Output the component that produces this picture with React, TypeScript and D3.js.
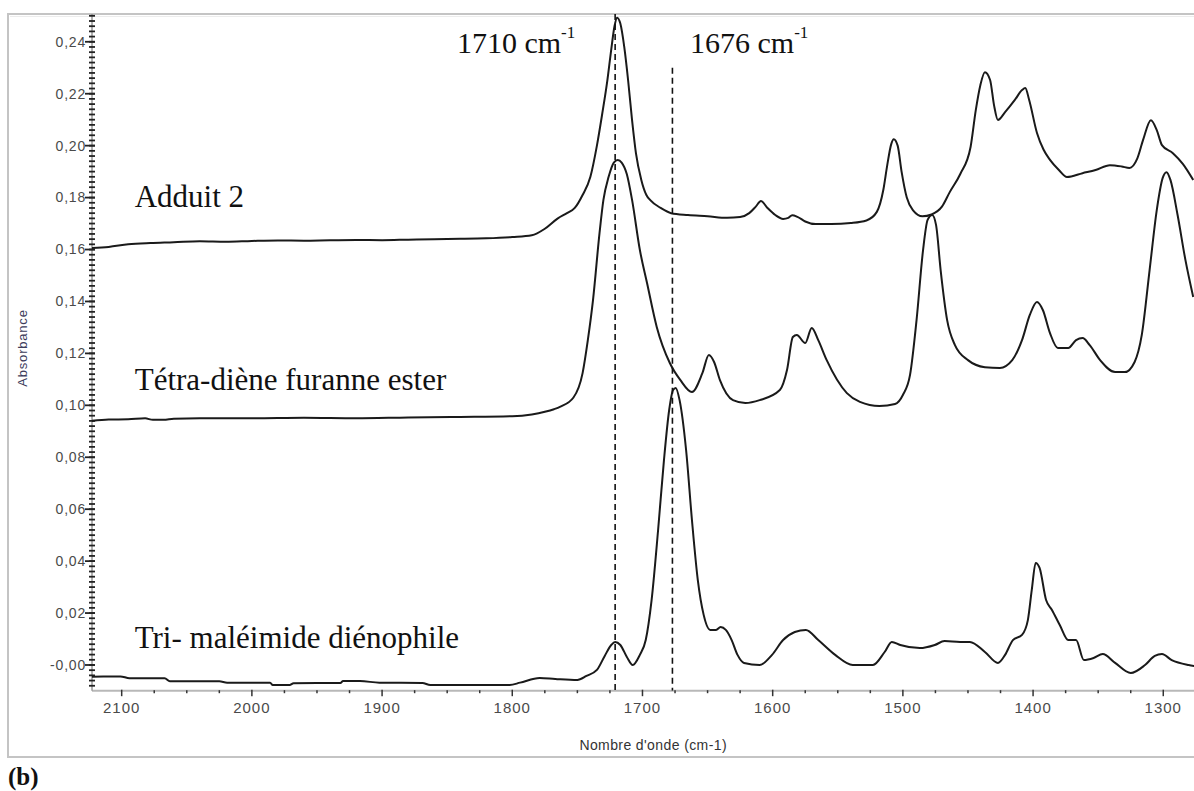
import React from "react";
import * as d3 from "d3";

// ---------- data ----------
const adduitWn = [2123, 2110, 2095, 2078, 2060, 2040, 2020, 2000, 1980, 1960, 1940, 1920, 1900, 1880, 1860, 1840, 1820, 1800, 1785, 1775, 1765, 1758, 1752, 1746, 1740, 1735, 1731, 1727, 1724, 1721.5, 1719.5, 1717, 1714, 1711, 1708, 1705, 1701, 1697, 1694, 1686, 1678, 1665, 1650, 1635, 1625, 1618, 1613, 1609, 1604, 1598, 1592, 1588, 1585, 1581, 1575, 1567, 1555, 1540, 1528, 1520, 1515, 1512, 1509, 1507, 1504, 1501, 1497, 1492, 1485, 1478, 1470, 1464, 1456, 1448, 1444, 1440.5, 1437, 1433, 1430, 1427, 1421.5, 1414, 1408.5, 1406, 1403, 1397, 1392, 1387, 1380, 1374, 1362, 1352, 1341, 1332, 1326, 1320, 1315.5, 1309.5, 1305, 1301, 1292.6, 1285, 1277];
const adduitAbs = [0.1606, 0.161, 0.162, 0.1625, 0.1628, 0.1632, 0.163, 0.1633, 0.1635, 0.1634, 0.1636, 0.1637, 0.1636, 0.1638, 0.164, 0.1641, 0.1643, 0.1648, 0.1655, 0.168, 0.172, 0.174, 0.176, 0.181, 0.188, 0.2, 0.212, 0.225, 0.237, 0.246, 0.2493, 0.247, 0.238, 0.225, 0.2098, 0.197, 0.187, 0.181, 0.179, 0.176, 0.174, 0.1733, 0.1728, 0.1722, 0.1725, 0.174, 0.1765, 0.1787, 0.176, 0.1733, 0.1718, 0.1722, 0.1732, 0.1726, 0.1708, 0.1698, 0.1698, 0.1702, 0.1712, 0.1745, 0.183, 0.1925, 0.2005, 0.2025, 0.2, 0.19, 0.18, 0.175, 0.1728, 0.1735, 0.1765, 0.1821, 0.189, 0.1995, 0.2137, 0.2233, 0.2283, 0.2253, 0.2156, 0.2099, 0.2129, 0.2176, 0.2214, 0.2222, 0.2176, 0.2049, 0.1985, 0.1945, 0.1905, 0.1879, 0.1894, 0.1906, 0.1925, 0.192, 0.1914, 0.195, 0.2022, 0.2098, 0.206, 0.2002, 0.1971, 0.193, 0.1868];

const tetraWn = [2123, 2110, 2095, 2082, 2076, 2068, 2060, 2040, 2000, 1960, 1920, 1880, 1840, 1800, 1785, 1775, 1768, 1763, 1753, 1746, 1742, 1738, 1733, 1730, 1726, 1722, 1719, 1716, 1712, 1708, 1702, 1696.5, 1689, 1679, 1671, 1662, 1654, 1649, 1645, 1640.5, 1630.5, 1621, 1610, 1594.5, 1589, 1584.5, 1581.5, 1575, 1570, 1565, 1558.5, 1543, 1533, 1518, 1506, 1500, 1494.5, 1489.5, 1484.5, 1481, 1477.5, 1474.5, 1471, 1466, 1460, 1450, 1437, 1425.5, 1416, 1408.5, 1402.5, 1397, 1392.5, 1387, 1381, 1373, 1367, 1362, 1356.5, 1348.5, 1337, 1329.5, 1322, 1316.5, 1310.5, 1305, 1300.5, 1297.5, 1294.5, 1289, 1283, 1277];
const tetraAbs = [0.094, 0.0945, 0.0946, 0.095, 0.0944, 0.0944, 0.0948, 0.095, 0.095, 0.0952, 0.095, 0.0953, 0.0955, 0.0958, 0.0965, 0.0975, 0.0985, 0.0995, 0.103, 0.1124, 0.125, 0.1405, 0.1663, 0.1791, 0.188, 0.1935, 0.1945, 0.1935, 0.189, 0.1791, 0.1598, 0.1471, 0.1301, 0.1163, 0.1098, 0.1051, 0.1124, 0.1194, 0.1167, 0.1097, 0.102, 0.1009, 0.102, 0.1059, 0.1136, 0.1263, 0.1271, 0.124, 0.1298, 0.1251, 0.1174, 0.1047, 0.1013, 0.0997, 0.1005, 0.104, 0.1117, 0.1328, 0.1598, 0.1714, 0.1733, 0.1694, 0.1521, 0.1328, 0.1232, 0.1174, 0.1147, 0.1144, 0.1174, 0.1251, 0.1348, 0.1398, 0.1367, 0.1278, 0.1221, 0.1221, 0.1251, 0.1259, 0.1232, 0.1174, 0.1128, 0.1128, 0.1167, 0.1271, 0.1521, 0.1752, 0.1875, 0.1898, 0.1868, 0.1733, 0.156, 0.1417];

const triWn = [2123, 2101, 2094, 2067, 2063, 2025, 2019, 1986, 1984, 1971, 1968, 1932, 1930, 1917, 1902, 1869, 1863, 1802, 1794, 1779, 1767, 1750, 1743, 1735, 1729, 1724, 1721, 1717, 1712, 1707.5, 1702, 1697.5, 1693, 1688, 1683.5, 1679.5, 1676.5, 1674.5, 1671.5, 1666.5, 1662, 1657.5, 1653, 1648, 1643.5, 1640, 1636, 1631.5, 1627, 1622, 1610, 1600.5, 1592, 1583, 1574.5, 1565, 1552, 1538.5, 1523, 1514, 1508.5, 1502, 1487, 1475.5, 1468, 1456, 1448.5, 1437, 1427, 1421.5, 1415.5, 1408.5, 1404, 1401, 1398, 1395, 1390, 1385.5, 1379.5, 1373, 1367, 1361, 1353.5, 1346.5, 1337, 1325, 1314, 1306.5, 1301, 1293.5, 1280.5, 1276];
const triAbs = [-0.0045, -0.0044, -0.0051, -0.0051, -0.0063, -0.0063, -0.0068, -0.0068, -0.0077, -0.0077, -0.007, -0.0069, -0.0062, -0.0062, -0.0068, -0.0069, -0.0077, -0.0077, -0.0068, -0.005, -0.0054, -0.0058, -0.0042, -0.0019, 0.0035, 0.0077, 0.0089, 0.0077, 0.0031, 0.0, 0.0039, 0.0096, 0.025, 0.052, 0.0789, 0.0982, 0.1059, 0.1067, 0.102, 0.0828, 0.0558, 0.0327, 0.0193, 0.0135, 0.0135, 0.0146, 0.0135, 0.0096, 0.0039, 0.0008, 0.0, 0.0039, 0.0096, 0.0127, 0.0135, 0.0096, 0.0039, 0.0, 0.0, 0.005, 0.0089, 0.0077, 0.0065, 0.0077, 0.0092, 0.0089, 0.0089, 0.005, 0.0008, 0.0039, 0.0096, 0.0116, 0.0173, 0.0289, 0.0393, 0.0374, 0.025, 0.0212, 0.0154, 0.0096, 0.0096, 0.0019, 0.0027, 0.0042, 0.0008, -0.0031, 0.0, 0.0035, 0.0042, 0.0019, 0.0, -0.0004];

const seriesLabels = ["Adduit 2", "Tétra-diène furanne ester", "Tri- maléimide diénophile"];
const labelAnchorsWn = [2090, 2090, 2090];
const labelAnchorsAbs = [0.1762, 0.1059, 0.0066];

const xTicks = [2100, 2000, 1900, 1800, 1700, 1600, 1500, 1400, 1300];
const yTicks = [0, 0.02, 0.04, 0.06, 0.08, 0.1, 0.12, 0.14, 0.16, 0.18, 0.2, 0.22, 0.24];
const yTickLabels = ["-0,00", "0,02", "0,04", "0,06", "0,08", "0,10", "0,12", "0,14", "0,16", "0,18", "0,20", "0,22", "0,24"];

const markerWn = [1721, 1677];
const markerTopAbs = [0.2507, 0.23];
const markerLabels = ["1710 cm", "1676 cm"];
const markerLabelWn = [1842.5, 1663.5];

const xDomain = [2122.8, 1276.4];
const yDomain = [-0.0099, 0.2507];

const W = 1194;
const H = 791;
const plot = { left: 92, right: 1194, top: 14, bottom: 690.7 };

export default function App() {
  const x = d3.scaleLinear().domain(xDomain).range([plot.left, plot.right]);
  const y = d3.scaleLinear().domain(yDomain).range([plot.bottom, plot.top]);

  const line = d3
    .line<[number, number]>()
    .x((d) => x(d[0]))
    .y((d) => y(d[1]))
    .curve(d3.curveMonotoneX);

  const series = [
    d3.zip(adduitWn, adduitAbs) as [number, number][],
    d3.zip(tetraWn, tetraAbs) as [number, number][],
    d3.zip(triWn, triAbs) as [number, number][],
  ];

  const yMinor = d3.range(-0.008, 0.2505, 0.002);
  const xMinor = d3.range(2125, 1275, -25).filter((v) => v % 100 !== 0 && v <= xDomain[0] && v >= xDomain[1]);

  const sans = "'Liberation Sans', Arial, sans-serif";
  const serif = "'Liberation Serif', 'Times New Roman', serif";

  return (
    <svg
      width={W}
      height={H}
      viewBox={`0 0 ${W} ${H}`}
      style={{ position: "absolute", left: 0, top: 0, display: "block", background: "#fff" }}
    >
      <defs>
        <clipPath id="plotClip">
          <rect x={plot.left} y={plot.top} width={plot.right - plot.left} height={plot.bottom - plot.top} />
        </clipPath>
      </defs>
      {/* outer frame */}
      <rect x={8} y={14} width={1200} height={743} fill="#fff" stroke="#c4c4c4" strokeWidth={2} />
      <line x1={10} x2={1200} y1={16.5} y2={16.5} stroke="#ececec" strokeWidth={1} />

      {/* x axis */}
      <line x1={plot.left} x2={plot.right} y1={plot.bottom} y2={plot.bottom} stroke="#b8b8b8" strokeWidth={2} />
      {xMinor.map((v) => (
        <line key={"xm" + v} x1={x(v)} x2={x(v)} y1={plot.bottom - 0.5} y2={plot.bottom + 2.5} stroke="#333" strokeWidth={1.5} />
      ))}
      {xTicks.map((v) => (
        <g key={"xt" + v}>
          <line x1={x(v)} x2={x(v)} y1={plot.bottom - 1} y2={plot.bottom + 5.5} stroke="#333" strokeWidth={1.5} />
          <text x={x(v)} y={713} textAnchor="middle" fontFamily={sans} fontSize={15} letterSpacing={1} fill="#4a4a4a">
            {v}
          </text>
        </g>
      ))}
      <text x={727} y={750} textAnchor="end" fontFamily={sans} fontSize={14} letterSpacing={0.4} fill="#333">
        Nombre d'onde (cm-1)
      </text>

      {/* y axis */}
      <line x1={plot.left} x2={plot.left} y1={plot.top} y2={plot.bottom} stroke="#999" strokeWidth={1.5} />
      {yMinor.map((v, i) => (
        <line key={"ym" + i} x1={plot.left - 3} x2={plot.left + 3} y1={y(v)} y2={y(v)} stroke="#222" strokeWidth={1.8} />
      ))}
      {yTicks.map((v, i) => (
        <g key={"yt" + v}>
          <line x1={plot.left - 7} x2={plot.left + 3} y1={y(v)} y2={y(v)} stroke="#222" strokeWidth={1.8} />
          <text x={plot.left - 6} y={y(v)} dy="0.35em" textAnchor="end" fontFamily={sans} fontSize={14} letterSpacing={0.8} fill="#4a4a4a">
            {yTickLabels[i]}
          </text>
        </g>
      ))}
      <text
        transform={`translate(22, 348) rotate(-90)`}
        textAnchor="middle"
        dy="0.35em"
        fontFamily={sans}
        fontSize={13}
        letterSpacing={0.8}
        fill="#3d3d5c"
      >
        Absorbance
      </text>

      {/* curves */}
      <g clipPath="url(#plotClip)">
        {series.map((s, i) => (
          <path key={"s" + i} d={line(s) || ""} fill="none" stroke="#1a1a1a" strokeWidth={2} strokeLinejoin="round" />
        ))}
        {markerWn.map((w, i) => (
          <line
            key={"mk" + i}
            x1={x(w)}
            x2={x(w)}
            y1={y(markerTopAbs[i])}
            y2={plot.bottom}
            stroke="#111"
            strokeWidth={1.6}
            strokeDasharray="6 4"
          />
        ))}
      </g>

      {/* series labels */}
      {seriesLabels.map((t, i) => (
        <text key={"lbl" + i} x={x(labelAnchorsWn[i])} y={y(labelAnchorsAbs[i])} fontFamily={serif} fontSize={31} fill="#111">
          {t}
        </text>
      ))}

      {/* marker labels */}
      {markerLabels.map((t, i) => (
        <text key={"ml" + i} x={x(markerLabelWn[i])} y={53} fontFamily={serif} fontSize={30} fill="#111">
          {t}
          <tspan dy={-15} fontSize={17}>-1</tspan>
        </text>
      ))}

      {/* panel tag */}
      <text x={8} y={785} fontFamily={serif} fontSize={25} fontWeight="bold" fill="#111">
        (b)
      </text>
    </svg>
  );
}
